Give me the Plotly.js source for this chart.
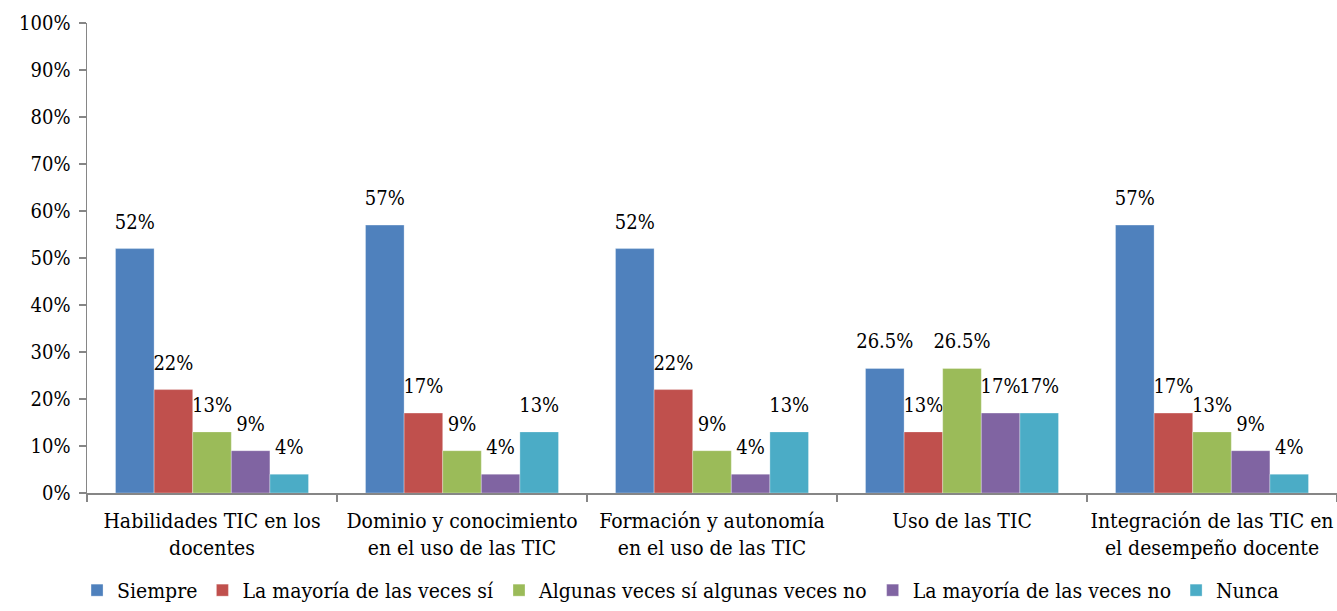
<!DOCTYPE html>
<html>
<head>
<meta charset="utf-8">
<script src="https://cdn.plot.ly/plotly-3.0.1.min.js"></script>
<style>html,body{margin:0;padding:0;background:#fff;}#chart{width:1337px;height:611px;}</style>
</head>
<body>
<div id="chart"></div>
<script>
var categories = [
  "Habilidades TIC en los<br>docentes",
  "Dominio y conocimiento<br>en el uso de las TIC",
  "Formación y autonomía<br>en el uso de las TIC",
  "Uso de las TIC",
  "Integración de las TIC en<br>el desempeño docente"
];
var seriesNames = ["Siempre", "La mayoría de las veces sí", "Algunas veces sí algunas veces no", "La mayoría de las veces no", "Nunca"];
var siempre = [52, 57, 52, 26.5, 57];
var mayoriaSi = [22, 17, 22, 13, 17];
var algunas = [13, 9, 9, 26.5, 13];
var mayoriaNo = [9, 4, 4, 17, 9];
var nunca = [4, 13, 13, 17, 4];
var yTicks = [0, 10, 20, 30, 40, 50, 60, 70, 80, 90, 100];

var seriesValues = [siempre, mayoriaSi, algunas, mayoriaNo, nunca];
var colors = ["#4F81BD", "#C0504D", "#9BBB59", "#8064A2", "#4BACC6"];

// pick an installed serif face (condensed if present, else regular DejaVu Serif)
function fontAvailable(name) {
  var c = document.createElement("canvas").getContext("2d");
  var s = "Habilidades TIC en los docentes 0123456789%";
  c.font = "40px monospace";
  var a = c.measureText(s).width;
  c.font = "40px '" + name + "', monospace";
  var b = c.measureText(s).width;
  return Math.abs(a - b) > 0.5;
}
var cond = fontAvailable("DejaVu Serif Condensed");
var font = cond ? "DejaVu Serif Condensed" : "DejaVu Serif";
var k = cond ? 1.1 : 1.0;
var sTick = Math.round(18.5 * k), sCat = Math.round(19 * k), sLeg = Math.round(19 * k), sLab = Math.round(18 * k);

var traces = seriesValues.map(function (vals, i) {
  return {
    type: "bar",
    name: seriesNames[i],
    x: categories,
    y: vals,
    text: vals.map(function (v) { return v + "%"; }),
    textposition: "outside",
    constraintext: "none",
    textangle: 0,
    cliponaxis: false,
    textfont: {family: font, size: sLab, color: "#000"},
    marker: {color: colors[i], line: {color: "rgba(255,255,255,0.6)", width: 0.5}},
    hoverinfo: "name+y"
  };
});

var layout = {
  width: 1337,
  height: 611,
  margin: {l: 87, r: 0, t: 23, b: 118},
  paper_bgcolor: "#fff",
  plot_bgcolor: "#fff",
  font: {family: font, size: sTick, color: "#000"},
  barmode: "group",
  bargap: 0.228,
  bargroupgap: 0,
  showlegend: true,
  legend: {
    orientation: "h",
    xref: "container",
    yref: "container",
    x: 0.509,
    xanchor: "center",
    y: -0.046,
    yanchor: "bottom",
    font: {family: font, size: sLeg, color: "#000"},
    itemwidth: 30,
    traceorder: "normal"
  },
  xaxis: {
    type: "category",
    showline: true,
    linecolor: "#868686",
    linewidth: 1.5,
    ticks: "outside",
    tickson: "boundaries",
    ticklen: 7,
    tickcolor: "#868686",
    tickwidth: 1.5,
    tickangle: 0,
    showgrid: false,
    ticklabelstandoff: 8,
    tickfont: {family: font, size: sCat, color: "#000"}
  },
  yaxis: {
    range: [0, 100],
    tickvals: yTicks,
    ticktext: yTicks.map(function (v) { return v + "%"; }),
    showline: true,
    linecolor: "#868686",
    linewidth: 1.5,
    ticks: "outside",
    ticklen: 7,
    tickcolor: "#868686",
    tickwidth: 1.5,
    showgrid: false,
    zeroline: false,
    ticklabelstandoff: 4,
    tickfont: {family: font, size: sTick, color: "#000"}
  }
};

Plotly.newPlot("chart", traces, layout, {displayModeBar: false, staticPlot: true}).then(function (gd) {
  // lift the outside data labels a little higher above the bars, as in the reference
  var texts = gd.querySelectorAll("g.point text.bartext");
  texts.forEach(function (t) {
    var tr = t.getAttribute("transform") || "";
    t.setAttribute("transform", "translate(0,-12) " + tr);
  });
});
</script>
</body>
</html>
